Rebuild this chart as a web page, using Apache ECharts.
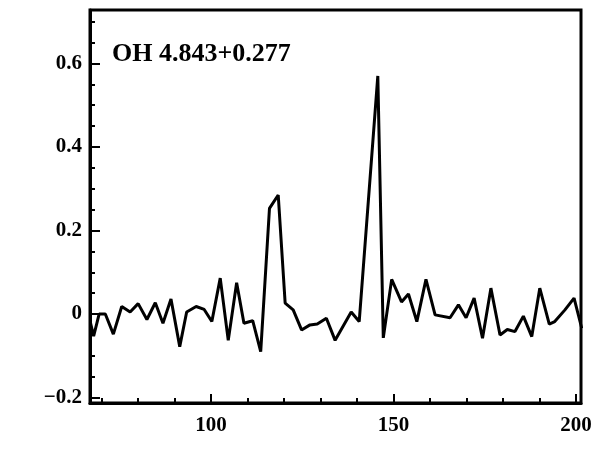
<!DOCTYPE html>
<html><head><meta charset="utf-8">
<script src="https://cdn.jsdelivr.net/npm/echarts@6/dist/echarts.min.js"></script>
<style>html,body{margin:0;padding:0;background:#fff}#c{width:607px;height:467px}</style>
</head><body><div id="c"></div>
<script>
const velocity = [66.9,67.8,69.3,71.0,73.2,75.5,77.8,80.0,82.4,84.7,86.8,89.0,91.4,93.3,95.9,98.1,100.2,102.5,104.7,107.0,109.0,111.4,113.6,116.0,118.4,120.3,122.5,124.8,127.1,129.1,131.6,134.0,138.4,140.6,145.7,147.2,149.5,152.2,154.1,156.4,158.9,161.4,165.5,167.8,169.9,172.1,174.4,176.7,179.2,181.2,183.3,185.6,187.9,190.1,192.7,194.2,197.0,199.5,201.6];
const flux = [-0.02,-0.053,0.0,0.0,-0.048,0.018,0.005,0.025,-0.013,0.027,-0.022,0.036,-0.078,0.005,0.018,0.011,-0.018,0.086,-0.063,0.075,-0.022,-0.016,-0.090,0.253,0.285,0.026,0.010,-0.038,-0.026,-0.024,-0.010,-0.063,0.005,-0.018,0.570,-0.057,0.083,0.029,0.048,-0.018,0.083,-0.002,-0.009,0.022,-0.009,0.038,-0.058,0.062,-0.050,-0.037,-0.042,-0.005,-0.054,0.062,-0.024,-0.018,0.010,0.038,-0.034];
const xLabels = [100,150,200];
const xMinorTicks = [70,80,90,110,120,130,140,160,170,180,190];
const yLabels = [-0.2,0,0.2,0.4,0.6];
const yMinorTicks = [-0.15,-0.1,-0.05,0.05,0.1,0.15,0.25,0.3,0.35,0.45,0.5,0.55,0.65,0.7];
const titleText = 'OH 4.843+0.277';

const X_MIN = 66.8, X_MAX = 201.4, Y_MIN = -0.213, Y_MAX = 0.728;
const font = {fontFamily:'Liberation Serif', fontWeight:'bold', fontSize:21, color:'#000'};
const chart = echarts.init(document.getElementById('c'), null, {renderer:'canvas'});
const data = velocity.map((v,i)=>[v, flux[i]]);
chart.setOption({
  animation:false,
  backgroundColor:'#fff',
  title:{text:titleText, left:107, top:36, textStyle:{fontFamily:'Liberation Serif', fontWeight:'bold', fontSize:26, color:'#000'}},
  grid:{left:90, right:26, top:10, bottom:64, show:true, borderColor:'#000', borderWidth:3, backgroundColor:'transparent'},
  xAxis:[
    {type:'value', position:'bottom', min:X_MIN, max:X_MAX,
     axisLine:{show:true, onZero:false, lineStyle:{color:'#000', width:3}},
     axisTick:{show:true, inside:true, length:5, lineStyle:{color:'#000', width:2}, customValues:xMinorTicks},
     axisLabel:{show:true, margin:12, customValues:xLabels, ...font},
     splitLine:{show:false}},
    {type:'value', position:'bottom', offset:0, min:X_MIN, max:X_MAX,
     axisLine:{show:false, onZero:false},
     axisTick:{show:true, inside:true, length:9, lineStyle:{color:'#000', width:2}, customValues:xLabels},
     axisLabel:{show:false}, splitLine:{show:false}}
  ],
  yAxis:[
    {type:'value', position:'left', min:Y_MIN, max:Y_MAX,
     axisLine:{show:true, onZero:false, lineStyle:{color:'#000', width:3}},
     axisTick:{show:true, inside:true, length:10, lineStyle:{color:'#000', width:2}, customValues:yLabels},
     axisLabel:{show:true, margin:8, customValues:yLabels, ...font,
       formatter:v=> v===0 ? '0' : (v<0 ? '\u2212'+Math.abs(v).toFixed(1) : v.toFixed(1))},
     splitLine:{show:false}},
    {type:'value', position:'left', offset:0, min:Y_MIN, max:Y_MAX,
     axisLine:{show:false, onZero:false},
     axisTick:{show:true, inside:true, length:5, lineStyle:{color:'#000', width:2}, customValues:yMinorTicks},
     axisLabel:{show:false}, splitLine:{show:false}}
  ],
  series:[{type:'line', xAxisIndex:0, yAxisIndex:0, data:data, symbol:'none', clip:true,
    lineStyle:{color:'#000', width:3}}]
});
</script></body></html>
